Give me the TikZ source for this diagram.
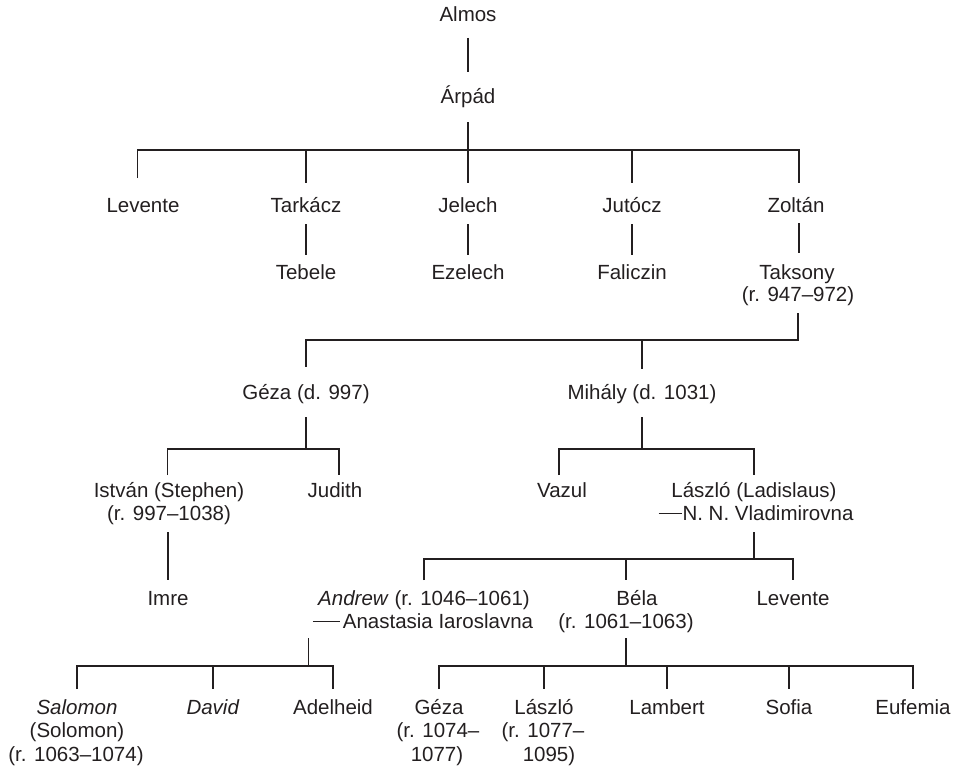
\documentclass[tikz,border=0pt]{standalone}
\usepackage{fontspec}
\setmainfont{Liberation Sans}
\definecolor{ink}{HTML}{231F20}
\newcommand\spousedash[2]{\rule[6.3pt]{#1pt}{0.9pt}\hspace*{#2pt}}
\begin{document}
\begin{tikzpicture}[x=1pt,y=-1pt,
  person/.style={anchor=base,inner sep=0pt,font=\fontsize{20.5}{23.5}\selectfont,text=ink},
  link/.style={draw=ink,line width=1.1pt}]
\useasboundingbox (0,0) rectangle (958,768);
% generation 0-1
\node[person] (almos) at (468,21.7) {Almos};
\node[person] (arpad) at (468,103.3) {Árpád};
% generation 2
\node[person] (levente) at (143,212) {Levente};
\node[person] (tarkacz) at (306,212) {Tarkácz};
\node[person] (jelech) at (468,212) {Jelech};
\node[person] (jutocz) at (632,212) {Jutócz};
\node[person] (zoltan) at (796,212) {Zoltán};
% generation 3
\node[person] (tebele) at (306,279) {Tebele};
\node[person] (ezelech) at (468,279) {Ezelech};
\node[person] (faliczin) at (632,279) {Faliczin};
\node[person] (taksony) at (797,279) {Taksony};
\node[person] (taksonyB) at (798,301.5) {(r. 947–972)};
% generation 4
\node[person] (geza) at (306,399.5) {Géza (d. 997)};
\node[person] (mihaly) at (642,399.5) {Mihály (d. 1031)};
% generation 5
\node[person] (istvan) at (169,497) {István (Stephen)};
\node[person] (istvanB) at (169,520) {(r. 997–1038)};
\node[person] (judith) at (335,497) {Judith};
\node[person] (vazul) at (562,497) {Vazul};
\node[person] (laszlo) at (754,497) {László (Ladislaus)};
\node[person] (laszloB) at (756,520) {\spousedash{23}{1}N. N. Vladimirovna};
% generation 6
\node[person] (imre) at (168,605) {Imre};
\node[person] (andrew) at (424,605) {\textit{Andrew} (r. 1046–1061)};
\node[person] (andrewB) at (423,628.5) {\spousedash{27}{3}Anastasia Iaroslavna};
\node[person] (bela) at (637,605) {Béla};
\node[person] (belaB) at (626,628.5) {(r. 1061–1063)};
\node[person] (levente2) at (793,605) {Levente};
% generation 7
\node[person] (salomon) at (77,714) {\textit{Salomon}};
\node[person] (salomonB) at (77,737.5) {(Solomon)};
\node[person] (salomonC) at (76,761) {(r. 1063–1074)};
\node[person] (david) at (213,714) {\textit{David}};
\node[person] (adelheid) at (333,714) {Adelheid};
\node[person] (geza2) at (439,714) {Géza};
\node[person] (geza2B) at (438,737.5) {(r. 1074–};
\node[person] (geza2C) at (437,761) {1077)};
\node[person] (laszlo2) at (544,714) {László};
\node[person] (laszlo2B) at (543,737.5) {(r. 1077–};
\node[person] (laszlo2C) at (549,761) {1095)};
\node[person] (lambert) at (667,714) {Lambert};
\node[person] (sofia) at (789,714) {Sofia};
\node[person] (eufemia) at (913,714) {Eufemia};
% helper line positions
\coordinate (levente-l) at ([xshift=-5.5pt]levente.base);
\coordinate (zoltan-l) at ([xshift=3pt]zoltan.base);
\coordinate (judith-l) at ([xshift=4pt]judith.base);
\coordinate (vazul-l) at ([xshift=-3pt]vazul.base);
\coordinate (istvan-l) at ([xshift=-1.5pt]istvan.base);
\coordinate (andrew-l) at ([xshift=-4pt]andrewB.west);
% connectors
\draw[link] (almos |- 0,38) -- (arpad |- 0,72);
\draw[link] (arpad |- 0,122) -- (jelech |- 0,183);
\draw[link] (levente-l |- 0,178) -- (levente-l |- 0,150) -- (zoltan-l |- 0,150) -- (zoltan-l |- 0,183);
\draw[link] (tarkacz |- 0,150) -- (tarkacz |- 0,183);
\draw[link] (jutocz |- 0,150) -- (jutocz |- 0,183);
\draw[link] (tarkacz |- 0,224) -- (tebele |- 0,255);
\draw[link] (jelech |- 0,224) -- (ezelech |- 0,255);
\draw[link] (jutocz |- 0,224) -- (faliczin |- 0,255);
\draw[link] (zoltan-l |- 0,223) -- (zoltan-l |- 0,253);
\draw[link] (taksonyB |- 0,313) -- (taksonyB |- 0,340) -- (geza |- 0,340) -- (geza |- 0,367);
\draw[link] (mihaly |- 0,340) -- (mihaly |- 0,369);
\draw[link] (geza |- 0,417) -- (geza |- 0,449);
\draw[link] (istvan-l |- 0,475) -- (istvan-l |- 0,449) -- (judith-l |- 0,449) -- (judith-l |- 0,475);
\draw[link] (mihaly |- 0,417) -- (mihaly |- 0,449);
\draw[link] (vazul-l |- 0,475) -- (vazul-l |- 0,449) -- (laszlo |- 0,449) -- (laszlo |- 0,475);
\draw[link] (imre |- 0,532) -- (imre |- 0,580);
\draw[link] (laszlo |- 0,532) -- (laszlo |- 0,559);
\draw[link] (andrew |- 0,580) -- (andrew |- 0,559) -- (levente2 |- 0,559) -- (levente2 |- 0,580);
\draw[link] (belaB |- 0,559) -- (belaB |- 0,580);
\draw[link] (andrew-l |- 0,638) -- (andrew-l |- 0,666);
\draw[link] (salomon |- 0,689) -- (salomon |- 0,666) -- (adelheid |- 0,666) -- (adelheid |- 0,689);
\draw[link] (david |- 0,666) -- (david |- 0,689);
\draw[link] (belaB |- 0,638) -- (belaB |- 0,666);
\draw[link] (geza2 |- 0,689) -- (geza2 |- 0,666) -- (eufemia |- 0,666) -- (eufemia |- 0,689);
\draw[link] (laszlo2 |- 0,666) -- (laszlo2 |- 0,689);
\draw[link] (lambert |- 0,666) -- (lambert |- 0,689);
\draw[link] (sofia |- 0,666) -- (sofia |- 0,689);
\end{tikzpicture}
\end{document}
